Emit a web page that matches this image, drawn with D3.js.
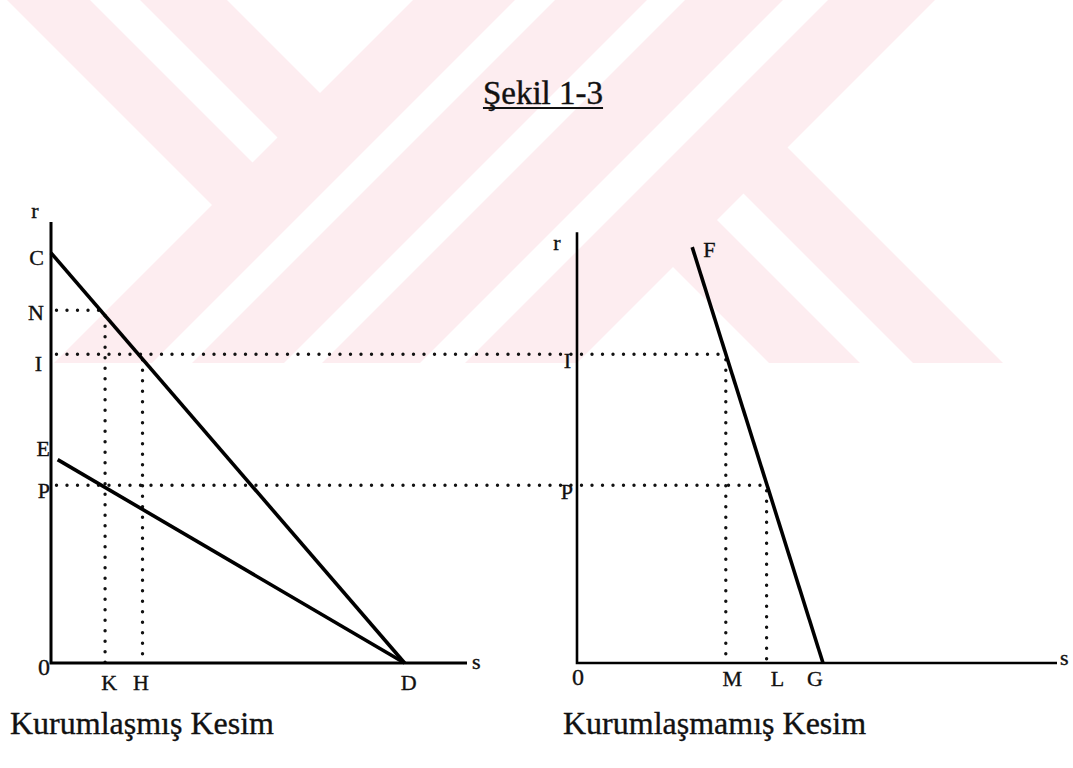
<!DOCTYPE html>
<html>
<head>
<meta charset="utf-8">
<script src="https://cdn.jsdelivr.net/npm/d3@7"></script>
<style>
  html, body { margin: 0; padding: 0; background: #fff; }
  svg { display: block; }
</style>
</head>
<body>
<svg id="chart" width="1073" height="768" font-family="'Liberation Serif', 'DejaVu Serif', serif"></svg>
<script>
// ---- Data -------------------------------------------------------------
const figureTitle = "Şekil 1-3";
const panelTitles = ["Kurumlaşmış Kesim", "Kurumlaşmamış Kesim"];

// interest-rate levels (r), shared by both panels
const rNames  = ["C", "N", "I", "E", "P"];
const rValues = [93, 80, 70, 47, 40.3];

// institutional sector: points on the s axis
const sNamesLeft  = ["K", "H", "D"];
const sValuesLeft = [13, 22, 85];

// non-institutional sector: points on the s axis
const sNamesRight  = ["M", "L", "G"];
const sValuesRight = [31, 39.5, 51.25];

// upper end of the F–G schedule [s, r]
const fPoint = [24, 94.3];
// s value where the drawn E–D schedule begins
const eStartS = 1.6;

// ---- Setup ------------------------------------------------------------
const FONT = "'Liberation Serif', 'DejaVu Serif', serif";
const INK = "#111";
const svg = d3.select("#chart");
const r  = Object.fromEntries(rNames.map((n, i) => [n, rValues[i]]));
const sL = Object.fromEntries(sNamesLeft.map((n, i) => [n, sValuesLeft[i]]));
const sR = Object.fromEntries(sNamesRight.map((n, i) => [n, sValuesRight[i]]));

const y  = d3.scaleLinear().domain([0, 100]).range([663, 222]);
const xL = d3.scaleLinear().domain([0, 100]).range([51, 467]);
const xR = d3.scaleLinear().domain([0, 100]).range([577, 1057]);

const line = d3.line();

// ---- Background seal (pale diagonal bands) -----------------------------
const seal = svg.append("g");
const sealHull = [[7,0],[935,0],[787.5,147.5],[1003,363],[54,363],[212,205]];
const sealGaps = [
  [[90,0],[140,0],[277.5,137.5],[252.5,162.5]],
  [[227,0],[413,0],[320,93]],
  [[515,0],[555,0],[192,363],[152,363]],
  [[647,0],[685,0],[322,363],[284,363]],
  [[783,0],[828,0],[465,363],[420,363]],
  [[717,220],[743.5,193.5],[913,363],[860,363]],
  [[673,267],[769,363],[577,363]]
];
seal.append("path").attr("d", line(sealHull) + "Z").attr("fill", "#fdedf0");
seal.selectAll("path.gap").data(sealGaps).join("path")
  .attr("class", "gap").attr("d", d => line(d) + "Z").attr("fill", "#fff");

// ---- Title ------------------------------------------------------------
const title = svg.append("text")
  .attr("x", 543).attr("y", 104)
  .attr("text-anchor", "middle")
  .attr("font-family", FONT)
  .attr("font-size", 33)
  .attr("fill", INK).attr("stroke", INK).attr("stroke-width", 0.4)
  .text(figureTitle);
const tb = title.node().getBBox();
svg.append("line")
  .attr("x1", tb.x).attr("x2", tb.x + tb.width)
  .attr("y1", 108).attr("y2", 108)
  .attr("stroke", INK).attr("stroke-width", 1.8);

// ---- Dotted guide lines -----------------------------------------------
const guides = [
  [[xL(0), y(r.N)], [xL(sL.K), y(r.N)]],
  [[xL(sL.K), y(r.N)], [xL(sL.K), y(0)]],
  [[xL(0), y(r.I)], [xR(sR.M), y(r.I)]],
  [[xL(sL.H), y(r.I)], [xL(sL.H), y(0)]],
  [[xR(sR.M), y(r.I)], [xR(sR.M), y(0)]],
  [[xL(0), y(r.P)], [xR(sR.L), y(r.P)]],
  [[xR(sR.L), y(r.P)], [xR(sR.L), y(0)]]
];
svg.append("g").selectAll("path").data(guides).join("path")
  .attr("d", d => line(d))
  .attr("fill", "none")
  .attr("stroke", INK)
  .attr("stroke-width", 3.4)
  .attr("stroke-linecap", "round")
  .attr("stroke-dasharray", "0 10.5")
  .attr("stroke-dashoffset", 5);

// ---- Axes -------------------------------------------------------------
const axes = svg.append("g").attr("stroke", "#000").attr("fill", "none");
axes.append("path").attr("stroke-width", 3)
  .attr("d", line([[xL(0), y(100)], [xL(0), y(0)], [xL(100), y(0)]]));
axes.append("path").attr("stroke-width", 2.6)
  .attr("d", line([[xR(0), y(97.7)], [xR(0), y(0)], [xR(100), y(0)]]));

// ---- Schedules --------------------------------------------------------
const eStartR = r.E * (1 - eStartS / sL.D);
const schedules = [
  [[xL(0), y(r.C)], [xL(sL.D), y(0)]],
  [[xL(eStartS), y(eStartR)], [xL(sL.D), y(0)]],
  [[xR(fPoint[0]), y(fPoint[1])], [xR(sR.G), y(0)]]
];
svg.append("g").selectAll("path").data(schedules).join("path")
  .attr("d", d => line(d))
  .attr("fill", "none")
  .attr("stroke", "#000")
  .attr("stroke-width", 3.6)
  .attr("stroke-linecap", "butt");

// ---- Labels -----------------------------------------------------------
const lab = svg.append("g")
  .attr("font-size", 22).attr("font-family", FONT)
  .attr("fill", INK).attr("stroke", INK).attr("stroke-width", 0.35);
function put(x, yy, t, anchor, size) {
  const el = lab.append("text").attr("x", x).attr("y", yy)
    .attr("text-anchor", anchor || "middle").text(t);
  if (size) el.attr("font-size", size);
}

// left panel, r axis
const rLeftStyle = { C: [44, 12], N: [44, 10], I: [42, 17], E: [50, 0], P: [50, 13] };
rNames.forEach(n => put(rLeftStyle[n][0], y(r[n]) + rLeftStyle[n][1], n, "end"));
put(35, 218, "r");
put(50, 675, "0", "end", 24);
// left panel, s axis
const sLeftShift = { K: 4, H: -1.5, D: 4 };
sNamesLeft.forEach(n => put(xL(sL[n]) + sLeftShift[n], 690, n));
put(472, 669, "s", "start");

// right panel, r axis
put(557, 250, "r");
put(571, y(r.I) + 14, "I", "end");
put(573, y(r.P) + 14, "P", "end");
put(xR(0) + 1, 685, "0", "middle", 24);
put(xR(fPoint[0]) + 11, y(fPoint[1]) + 10, "F", "start");
// right panel, s axis
const sRightShift = { M: 6.5, L: 11, G: -8 };
sNamesRight.forEach(n => put(xR(sR[n]) + sRightShift[n], 686, n));
put(1060, 665, "s", "start");

// ---- Panel titles -----------------------------------------------------
const pt = svg.append("g")
  .attr("font-family", FONT).attr("font-size", 32)
  .attr("fill", INK).attr("stroke", INK).attr("stroke-width", 0.35);
pt.append("text").attr("x", 10).attr("y", 734).text(panelTitles[0]);
pt.append("text").attr("x", 563).attr("y", 734).text(panelTitles[1]);
</script>
</body>
</html>
